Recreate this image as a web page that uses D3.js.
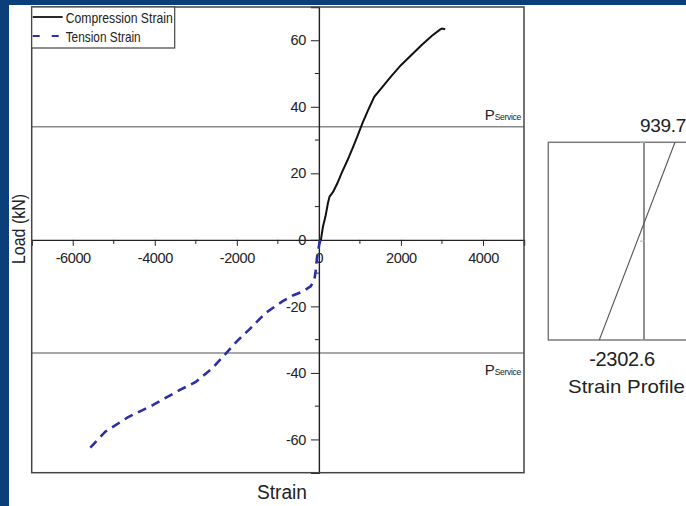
<!DOCTYPE html>
<html>
<head>
<meta charset="utf-8">
<script src="https://cdn.jsdelivr.net/npm/d3@7"></script>
<style>
  html, body { margin: 0; padding: 0; background: #fff; }
  svg { display: block; }
  text { font-family: "Liberation Sans", Arial, sans-serif; fill: #222; }
</style>
</head>
<body>
<svg id="chart" width="686" height="506"></svg>
<script>
// ---------------------------------------------------------------------------
// data

/** load-strain curve, compression gauge : [strain, load kN] */
const compression = [
  [0, -1.5], [50, 0], [100, 4], [160, 7], [220, 11], [260, 13], [350, 14.5],
  [450, 17], [570, 20.5], [700, 24], [820, 27.5], [950, 31.5], [1060, 35],
  [1200, 39], [1350, 43], [1550, 46], [1750, 49], [2000, 52.5], [2250, 55.5],
  [2500, 58.5], [2750, 61.3], [2950, 63.2], [3000, 63.5], [3080, 63.3]
];

/** load-strain curve, tension gauge : [strain, load kN] */
const tension = [
  [30, 0], [0, -2], [-40, -5], [-60, -7], [-80, -9.5], [-110, -12],
  [-200, -14], [-400, -15.6], [-650, -16.8], [-900, -18.6], [-1300, -22],
  [-1700, -27], [-2000, -30.5], [-2300, -34.6], [-2600, -38.6], [-3000, -42.7],
  [-3400, -45.2], [-4050, -49.7], [-4650, -53.3], [-5200, -57.6], [-5650, -63.5]
];

const xTicks = [-6000, -4000, -2000, 0, 2000, 4000];
const xMinorTicks = [-5000, -3000, -1000, 1000, 3000];
const yTicks = [-60, -40, -20, 0, 20, 40, 60];
const yMinorTicks = [-50, -30, -10, 10, 30, 50];

/** service load level, kN (drawn at + and -) */
const pService = [34, -34];

const legendItems = ['Compression Strain', 'Tension Strain'];

/** strain profile : top fibre / bottom fibre, depth 0 = top */
const profile = [
  {depth: 0, strain: 939.7},
  {depth: 1, strain: -2302.6}
];

// ---------------------------------------------------------------------------

const svg = d3.select('#chart');
const W = 686, H = 506;

const blue = '#0b3f79';
svg.append('rect').attr('width', W).attr('height', H).attr('fill', '#fff');
svg.append('rect').attr('width', W).attr('height', 5).attr('fill', blue);
svg.append('rect').attr('width', 9).attr('height', H).attr('fill', blue);

const plot = {left: 31.7, right: 524, top: 7, bottom: 472.7};

const x = d3.scaleLinear().domain([-7000, 5000]).range([plot.left, plot.right]);
const y = d3.scaleLinear().domain([-70, 70]).range([plot.bottom, plot.top]);

const g = svg.append('g');

// service load lines
g.selectAll('line.pservice')
  .data(pService)
  .join('line')
  .attr('class', 'pservice')
  .attr('x1', plot.left).attr('x2', plot.right)
  .attr('y1', d => y(d)).attr('y2', d => y(d))
  .attr('stroke', '#8a8a8a').attr('stroke-width', 1.4);

const psLabel = g.selectAll('text.pservice')
  .data(pService)
  .join('text')
  .attr('class', 'pservice')
  .attr('text-anchor', 'end')
  .attr('x', plot.right - 3)
  .attr('y', d => d > 0 ? y(d) - 7 : y(d) + 22);
psLabel.append('tspan').attr('font-size', 15).text('P');
psLabel.append('tspan').attr('font-size', 8.5).attr('letter-spacing', -0.3).text('Service');

// axes crossing at the origin
const xAxis = d3.axisBottom(x).tickValues(xTicks).tickSize(6).tickPadding(7)
  .tickFormat(d => String(d));
const xAxisG = g.append('g')
  .attr('transform', `translate(0,${y(0)})`)
  .call(xAxis);
xAxisG.append('g').selectAll('line')
  .data(xMinorTicks)
  .join('line')
  .attr('x1', d => x(d)).attr('x2', d => x(d))
  .attr('y1', 0).attr('y2', 4)
  .attr('stroke', '#222');

const yAxis = d3.axisLeft(y).tickValues(yTicks).tickSize(8).tickPadding(5)
  .tickFormat(d => String(d));
const yAxisG = g.append('g')
  .attr('transform', `translate(${x(0)},0)`)
  .call(yAxis);
yAxisG.append('g').selectAll('line')
  .data(yMinorTicks)
  .join('line')
  .attr('x1', -4).attr('x2', 0)
  .attr('y1', d => y(d)).attr('y2', d => y(d))
  .attr('stroke', '#222');

[xAxisG, yAxisG].forEach(a => {
  a.select('.domain').attr('stroke', '#222').attr('stroke-width', 1.4);
  a.selectAll('.tick line').attr('stroke', '#222');
  a.selectAll('text').attr('font-size', 14.5).attr('fill', '#222')
    .attr('letter-spacing', -0.4)
    .style('font-family', '"Liberation Sans", Arial, sans-serif');
});

// curves
const line = d3.line().x(d => x(d[0])).y(d => y(d[1]));

g.append('path')
  .datum(compression)
  .attr('d', line)
  .attr('fill', 'none')
  .attr('stroke', '#111')
  .attr('stroke-width', 2);

g.append('path')
  .datum(tension)
  .attr('d', line)
  .attr('fill', 'none')
  .attr('stroke', '#2b2fa6')
  .attr('stroke-width', 2.6)
  .attr('stroke-dasharray', '9,6');

// frame
g.append('rect')
  .attr('x', plot.left).attr('y', plot.top)
  .attr('width', plot.right - plot.left).attr('height', plot.bottom - plot.top)
  .attr('fill', 'none').attr('stroke', '#444').attr('stroke-width', 1.5);

// legend
const legend = g.append('g');
legend.append('rect')
  .attr('x', plot.left).attr('y', plot.top)
  .attr('width', 143).attr('height', 41)
  .attr('fill', '#fff').attr('stroke', '#444').attr('stroke-width', 1.2);
const li = legend.selectAll('g.item')
  .data(legendItems)
  .join('g')
  .attr('class', 'item')
  .attr('transform', (d, i) => `translate(${plot.left + 1},${plot.top + 10 + i * 19})`);
li.append('line')
  .attr('x1', 0).attr('x2', 30)
  .attr('stroke', (d, i) => i ? '#2b2fa6' : '#111')
  .attr('stroke-width', (d, i) => i ? 2.2 : 1.8)
  .attr('stroke-dasharray', (d, i) => i ? '7,12' : null);
li.append('text')
  .attr('x', 33).attr('y', 6)
  .attr('font-size', 15)
  .attr('textLength', (d, i) => i ? 75 : 107)
  .attr('lengthAdjust', 'spacingAndGlyphs')
  .text(d => d);

// axis titles
svg.append('text')
  .attr('transform', `translate(25,${229}) rotate(-90)`)
  .attr('text-anchor', 'middle')
  .attr('font-size', 19)
  .attr('textLength', 70)
  .attr('lengthAdjust', 'spacingAndGlyphs')
  .text('Load (kN)');
svg.append('text')
  .attr('x', 282).attr('y', 499)
  .attr('text-anchor', 'middle')
  .attr('font-size', 20)
  .attr('textLength', 50)
  .attr('lengthAdjust', 'spacingAndGlyphs')
  .text('Strain');

// ---------------------------------------------------------------------------
// strain profile sketch

const pf = {left: 548.3, right: 700, top: 142.3, bottom: 340, section: 644};
const px = d3.scaleLinear().domain([-2302.6, 939.7]).range([599.3, 675]);
const py = d3.scaleLinear().domain([0, 1]).range([pf.top, pf.bottom]);

const pg = svg.append('g');
pg.append('rect')
  .attr('x', pf.left).attr('y', pf.top)
  .attr('width', pf.right - pf.left).attr('height', pf.bottom - pf.top)
  .attr('fill', 'none').attr('stroke', '#7a7a7a').attr('stroke-width', 1.5);
pg.append('line')
  .attr('x1', pf.section).attr('x2', pf.section)
  .attr('y1', pf.top).attr('y2', pf.bottom)
  .attr('stroke', '#6a6a6a').attr('stroke-width', 1.5);
pg.selectAll('line.ptick')
  .data([0, 0.5, 1])
  .join('line')
  .attr('class', 'ptick')
  .attr('x1', pf.section - 4).attr('x2', pf.section + 1)
  .attr('y1', d => py(d)).attr('y2', d => py(d))
  .attr('stroke', '#aaa').attr('stroke-width', 1);
pg.append('path')
  .datum(profile)
  .attr('d', d3.line().x(d => px(d.strain)).y(d => py(d.depth)))
  .attr('fill', 'none').attr('stroke', '#555').attr('stroke-width', 1.1);

pg.append('text')
  .attr('x', 640).attr('y', 132)
  .attr('font-size', 19)
  .attr('letter-spacing', -0.3)
  .text(profile[0].strain.toFixed(1));
pg.append('text')
  .attr('x', 622).attr('y', 366)
  .attr('text-anchor', 'middle')
  .attr('font-size', 20)
  .attr('letter-spacing', -0.3)
  .text(profile[1].strain.toFixed(1));
pg.append('text')
  .attr('x', 568).attr('y', 393)
  .attr('font-size', 19)
  .attr('textLength', 117)
  .attr('lengthAdjust', 'spacingAndGlyphs')
  .text('Strain Profile');
</script>
</body>
</html>
